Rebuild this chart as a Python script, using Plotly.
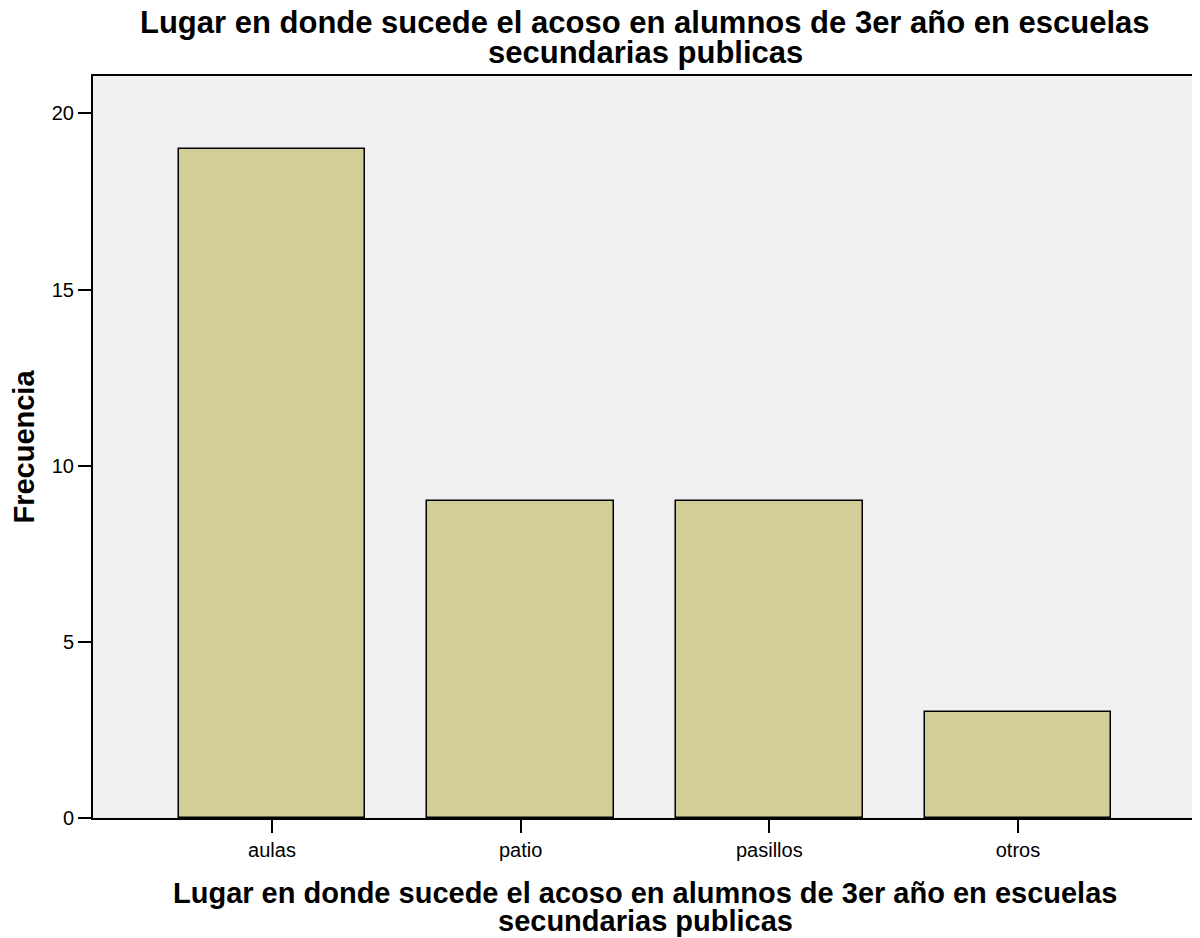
import plotly.graph_objects as go

categories = ["aulas", "patio", "pasillos", "otros"]
frecuencia = [19, 9, 9, 3]
y_ticks = [0, 5, 10, 15, 20]

title_lines = ["Lugar en donde sucede el acoso en alumnos de 3er año en escuelas",
               "secundarias publicas"]

fig = go.Figure()
fig.add_trace(go.Bar(
    x=categories, y=frecuencia, width=0.75,
    marker=dict(color="#d3ce97", line=dict(color="black", width=1.5)),
))

fig.update_layout(
    width=1192, height=930,
    margin=dict(l=85, r=3, t=68, b=120),
    paper_bgcolor="white", plot_bgcolor="#f0f0f0",
    font=dict(family="Liberation Sans, Arial, sans-serif", color="black"),
    showlegend=False,
    bargap=0,
)

# Main title (two lines, tight spacing as in the reference)
for line, shift in zip(title_lines, [54, 24]):
    fig.add_annotation(text=line, xref="paper", yref="paper", x=0.5, y=1,
                       xanchor="center", yanchor="middle", yshift=shift, showarrow=False,
                       font=dict(size=31, weight="bold"))
# X-axis title (two lines)
for line, shift in zip(title_lines, [-75, -103]):
    fig.add_annotation(text=line, xref="paper", yref="paper", x=0.5, y=0,
                       xanchor="center", yanchor="middle", yshift=shift, showarrow=False,
                       font=dict(size=29, weight="bold"))

fig.update_xaxes(
    range=[-0.72, 3.72], showline=True, linecolor="black", linewidth=2, mirror=True,
    ticks="outside", ticklen=13, tickwidth=2, tickcolor="black", automargin=False,
    tickfont=dict(size=20), showgrid=False,
)
fig.update_yaxes(
    range=[0, 21.06], tickvals=y_ticks, showline=True, linecolor="black", linewidth=2, mirror=True,
    ticks="outside", ticklen=13, tickwidth=2, tickcolor="black", automargin=False,
    tickfont=dict(size=20), showgrid=False, zeroline=False,
    title=dict(text="Frecuencia", font=dict(size=29, weight="bold"), standoff=22),
)

fig.write_html("out.html")
